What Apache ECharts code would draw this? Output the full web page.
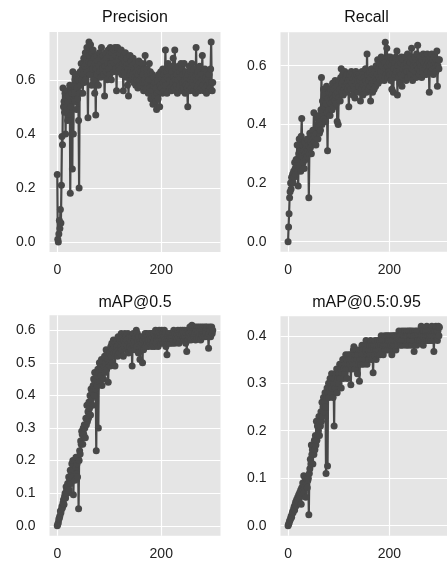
<!DOCTYPE html>
<html><head><meta charset="utf-8">
<script src="https://cdn.jsdelivr.net/npm/echarts@6/dist/echarts.min.js"></script>
<style>html,body{margin:0;padding:0;background:#fff}#c{width:447px;height:563px}</style>
</head><body><div id="c"></div>
<script>
const titles = ['Precision', 'Recall', 'mAP@0.5', 'mAP@0.5:0.95'];
const xTicks = [0, 200];
const precisionTicks = [0.0, 0.2, 0.4, 0.6];
const recallTicks = [0.0, 0.2, 0.4, 0.6];
const map50Ticks = [0.0, 0.1, 0.2, 0.3, 0.4, 0.5, 0.6];
const map5095Ticks = [0.0, 0.1, 0.2, 0.3, 0.4];

const precision = [
0.25,0.01,0.00,0.03,0.08,0.05,0.12,0.07,0.21,0.39,
0.36,0.57,0.50,0.52,0.48,0.55,0.40,0.53,0.50,0.56,
0.45,0.52,0.54,0.49,0.58,0.18,0.50,0.56,0.55,0.27,
0.63,0.40,0.58,0.55,0.60,0.52,0.62,0.49,0.57,0.53,
0.60,0.45,0.20,0.55,0.63,0.58,0.66,0.60,0.64,0.55,
0.62,0.68,0.59,0.65,0.70,0.60,0.66,0.72,0.63,0.46,
0.67,0.74,0.69,0.62,0.73,0.66,0.58,0.70,0.64,0.71,
0.60,0.68,0.55,0.66,0.47,0.64,0.69,0.62,0.67,0.58,
0.65,0.70,0.63,0.68,0.61,0.72,0.66,0.64,0.69,0.62,
0.67,0.54,0.65,0.70,0.63,0.68,0.60,0.66,0.71,0.64,
0.69,0.62,0.72,0.66,0.60,0.70,0.65,0.68,0.63,0.71,
0.66,0.72,0.64,0.69,0.56,0.67,0.72,0.63,0.68,0.65,
0.70,0.64,0.67,0.71,0.62,0.68,0.66,0.56,0.69,0.63,
0.67,0.70,0.61,0.65,0.68,0.58,0.64,0.54,0.66,0.62,
0.69,0.63,0.67,0.60,0.65,0.62,0.68,0.59,0.64,0.61,
0.66,0.58,0.63,0.60,0.65,0.57,0.62,0.67,0.60,0.64,
0.58,0.63,0.61,0.66,0.59,0.62,0.56,0.64,0.60,0.69,
0.61,0.57,0.64,0.59,0.62,0.55,0.60,0.66,0.57,0.63,
0.53,0.60,0.56,0.62,0.51,0.58,0.61,0.54,0.59,0.52,
0.57,0.49,0.55,0.60,0.53,0.62,0.56,0.50,0.58,0.63,
0.57,0.61,0.55,0.64,0.59,0.62,0.56,0.60,0.71,0.58,
0.63,0.55,0.61,0.66,0.58,0.64,0.60,0.57,0.65,0.62,
0.56,0.63,0.59,0.68,0.61,0.57,0.71,0.60,0.64,0.58,
0.62,0.55,0.60,0.65,0.57,0.63,0.58,0.61,0.66,0.56,
0.64,0.59,0.62,0.57,0.66,0.60,0.55,0.63,0.58,0.61,
0.57,0.50,0.62,0.58,0.65,0.56,0.60,0.63,0.57,0.66,
0.59,0.62,0.56,0.64,0.58,0.61,0.55,0.72,0.60,0.57,
0.63,0.58,0.61,0.56,0.65,0.59,0.62,0.57,0.60,0.69,
0.58,0.62,0.56,0.60,0.64,0.57,0.61,0.55,0.63,0.58,
0.60,0.56,0.62,0.59,0.57,0.64,0.74,0.59,0.56,0.59
];

const recall = [
0.00,0.05,0.095,0.15,0.17,0.20,0.18,0.22,0.21,0.23,
0.20,0.24,0.22,0.27,0.25,0.23,0.28,0.26,0.33,0.28,
0.19,0.30,0.35,0.26,0.31,0.24,0.36,0.42,0.29,0.33,
0.27,0.31,0.25,0.34,0.30,0.28,0.32,0.29,0.35,0.31,
0.33,0.15,0.30,0.37,0.32,0.34,0.30,0.36,0.33,0.38,
0.35,0.44,0.34,0.38,0.36,0.33,0.40,0.37,0.42,0.35,
0.39,0.43,0.37,0.41,0.38,0.45,0.56,0.40,0.48,0.43,
0.52,0.42,0.46,0.50,0.41,0.47,0.53,0.44,0.31,0.49,
0.45,0.51,0.48,0.43,0.52,0.47,0.50,0.45,0.54,0.49,
0.46,0.52,0.48,0.55,0.50,0.47,0.53,0.41,0.51,0.40,
0.49,0.55,0.52,0.48,0.56,0.59,0.51,0.54,0.57,0.50,
0.55,0.52,0.58,0.53,0.56,0.51,0.57,0.54,0.52,0.55,
0.46,0.53,0.57,0.55,0.52,0.58,0.54,0.56,0.50,0.57,
0.53,0.56,0.49,0.55,0.58,0.52,0.57,0.54,0.51,0.56,
0.53,0.57,0.55,0.48,0.56,0.52,0.58,0.54,0.50,0.57,
0.53,0.56,0.52,0.59,0.55,0.51,0.64,0.54,0.57,0.52,
0.55,0.58,0.53,0.48,0.56,0.59,0.54,0.51,0.57,0.55,
0.52,0.58,0.56,0.53,0.60,0.55,0.57,0.62,0.54,0.59,
0.56,0.61,0.55,0.58,0.63,0.57,0.60,0.56,0.62,0.58,
0.55,0.61,0.68,0.59,0.57,0.66,0.60,0.56,0.63,0.58,
0.61,0.57,0.63,0.55,0.60,0.52,0.58,0.62,0.51,0.59,
0.56,0.61,0.57,0.63,0.58,0.65,0.50,0.60,0.56,0.62,
0.58,0.54,0.61,0.57,0.63,0.53,0.59,0.62,0.56,0.60,
0.57,0.63,0.59,0.55,0.61,0.58,0.64,0.56,0.60,0.62,
0.58,0.61,0.57,0.63,0.66,0.59,0.55,0.62,0.60,0.57,
0.63,0.58,0.61,0.56,0.64,0.60,0.67,0.59,0.62,0.57,
0.61,0.58,0.63,0.60,0.56,0.62,0.59,0.64,0.57,0.61,
0.63,0.59,0.62,0.57,0.60,0.64,0.58,0.61,0.62,0.51,
0.60,0.63,0.58,0.61,0.64,0.59,0.62,0.57,0.60,0.63,
0.59,0.61,0.58,0.62,0.65,0.53,0.60,0.62,0.59,0.62
];

const map50 = [
0.00,0.005,0.01,0.02,0.025,0.03,0.045,0.04,0.05,0.06,
0.055,0.07,0.08,0.065,0.09,0.10,0.085,0.12,0.11,0.10,
0.13,0.12,0.15,0.11,0.14,0.17,0.13,0.16,0.19,0.15,
0.20,0.095,0.17,0.20,0.14,0.18,0.21,0.16,0.19,0.15,
0.21,0.052,0.20,0.23,0.22,0.26,0.25,0.29,0.28,0.25,
0.30,0.28,0.31,0.30,0.27,0.33,0.31,0.37,0.32,0.35,
0.33,0.38,0.36,0.40,0.34,0.42,0.39,0.41,0.37,0.43,
0.45,0.40,0.47,0.44,0.42,0.23,0.46,0.43,0.48,0.30,
0.47,0.50,0.44,0.49,0.46,0.51,0.43,0.48,0.50,0.45,
0.49,0.52,0.47,0.50,0.54,0.48,0.53,0.51,0.44,0.52,
0.50,0.53,0.49,0.55,0.52,0.56,0.50,0.54,0.57,0.53,
0.55,0.49,0.56,0.53,0.57,0.55,0.52,0.58,0.54,0.56,
0.53,0.57,0.55,0.59,0.54,0.56,0.58,0.52,0.57,0.55,
0.59,0.56,0.58,0.54,0.57,0.55,0.59,0.53,0.56,0.58,
0.55,0.57,0.54,0.58,0.49,0.56,0.59,0.55,0.57,0.54,
0.58,0.56,0.60,0.55,0.59,0.57,0.53,0.58,0.56,0.51,
0.57,0.55,0.58,0.56,0.50,0.57,0.54,0.58,0.56,0.59,
0.55,0.57,0.59,0.56,0.58,0.55,0.57,0.59,0.56,0.58,
0.57,0.59,0.55,0.58,0.56,0.59,0.57,0.55,0.58,0.60,
0.56,0.58,0.57,0.59,0.55,0.58,0.60,0.57,0.59,0.56,
0.58,0.60,0.57,0.59,0.56,0.58,0.60,0.57,0.59,0.55,
0.57,0.525,0.58,0.56,0.59,0.57,0.58,0.56,0.59,0.57,
0.58,0.56,0.59,0.57,0.60,0.58,0.56,0.59,0.57,0.58,
0.59,0.57,0.60,0.58,0.56,0.59,0.57,0.60,0.58,0.59,
0.57,0.60,0.58,0.59,0.57,0.60,0.58,0.56,0.59,0.535,
0.58,0.60,0.57,0.59,0.58,0.61,0.59,0.57,0.60,0.615,
0.59,0.61,0.58,0.60,0.59,0.61,0.57,0.60,0.58,0.61,
0.59,0.60,0.58,0.61,0.59,0.60,0.57,0.61,0.59,0.60,
0.58,0.61,0.59,0.60,0.58,0.61,0.60,0.59,0.61,0.58,
0.60,0.545,0.59,0.61,0.60,0.58,0.60,0.61,0.59,0.60
];

const map5095 = [
0.00,0.003,0.006,0.01,0.012,0.015,0.02,0.018,0.025,0.03,
0.028,0.035,0.04,0.033,0.045,0.05,0.042,0.055,0.048,0.06,
0.052,0.065,0.058,0.07,0.062,0.075,0.045,0.08,0.068,0.09,
0.075,0.105,0.07,0.085,0.095,0.06,0.09,0.10,0.08,0.095,
0.10,0.023,0.11,0.12,0.14,0.13,0.17,0.15,0.16,0.13,
0.17,0.15,0.18,0.16,0.19,0.17,0.22,0.18,0.21,0.19,
0.20,0.23,0.19,0.22,0.21,0.24,0.22,0.26,0.23,0.25,
0.27,0.24,0.26,0.28,0.25,0.11,0.27,0.29,0.126,0.28,
0.30,0.27,0.29,0.31,0.28,0.30,0.32,0.29,0.31,0.27,
0.30,0.21,0.31,0.29,0.32,0.30,0.33,0.28,0.31,0.33,
0.30,0.32,0.34,0.31,0.33,0.29,0.34,0.32,0.35,0.31,
0.33,0.35,0.32,0.34,0.36,0.33,0.35,0.31,0.34,0.36,
0.33,0.35,0.34,0.36,0.297,0.35,0.33,0.36,0.34,0.37,
0.377,0.35,0.33,0.36,0.34,0.37,0.35,0.32,0.36,0.34,
0.37,0.304,0.35,0.37,0.34,0.36,0.38,0.35,0.37,0.34,
0.36,0.38,0.35,0.37,0.39,0.36,0.34,0.38,0.36,0.37,
0.35,0.38,0.36,0.39,0.37,0.35,0.38,0.36,0.322,0.37,
0.38,0.36,0.39,0.37,0.35,0.38,0.37,0.39,0.36,0.38,
0.37,0.39,0.36,0.38,0.40,0.37,0.39,0.38,0.36,0.39,
0.38,0.40,0.37,0.39,0.38,0.40,0.37,0.39,0.40,0.38,
0.39,0.37,0.40,0.38,0.39,0.36,0.40,0.38,0.39,0.40,
0.38,0.40,0.39,0.37,0.40,0.39,0.38,0.40,0.39,0.41,
0.39,0.40,0.38,0.40,0.39,0.41,0.38,0.40,0.39,0.40,
0.41,0.39,0.40,0.38,0.40,0.41,0.39,0.40,0.38,0.41,
0.40,0.39,0.41,0.40,0.38,0.40,0.41,0.39,0.40,0.367,
0.40,0.41,0.39,0.40,0.38,0.41,0.40,0.39,0.41,0.40,
0.39,0.41,0.40,0.42,0.39,0.40,0.41,0.38,0.40,0.41,
0.40,0.39,0.41,0.40,0.42,0.39,0.41,0.40,0.39,0.41,
0.40,0.41,0.39,0.40,0.42,0.41,0.39,0.40,0.367,0.41,
0.40,0.41,0.42,0.40,0.41,0.39,0.41,0.42,0.40,0.418
];

const seriesList = [precision, recall, map50, map5095];
const tickList = [precisionTicks, recallTicks, map50Ticks, map5095Ticks];

const panels = [
  {left: 49.5, top: 32, width: 171, height: 220},
  {left: 280.5, top: 32.3, width: 172, height: 219.4},
  {left: 49.5, top: 315.3, width: 171, height: 220.5},
  {left: 280.5, top: 316.3, width: 172, height: 219.4}
];

function padExtent(arr) {
  const mn = Math.min(...arr), mx = Math.max(...arr);
  const r = mx - mn;
  return [mn - 0.05 * r, mx + 0.05 * r];
}

const FONT = 'Liberation Sans, Arial, Helvetica, sans-serif';
const grids = [], xAxes = [], yAxes = [], series = [], graphics = [];
seriesList.forEach((data, i) => {
  const p = panels[i];
  grids.push({left: p.left, top: p.top, width: p.width, height: p.height,
    backgroundColor: '#E5E5E5', show: true, borderWidth: 0, containLabel: false});
  const xe = padExtent(data.map((v, k) => k));
  const ye = padExtent(data);
  xAxes.push({type: 'value', gridIndex: i, min: xe[0], max: xe[1],
    axisLine: {show: false},
    axisTick: {show: false, customValues: xTicks},
    axisLabel: {customValues: xTicks, color: '#222', fontSize: 14, fontFamily: FONT, margin: 11,
      formatter: v => String(Math.round(v))},
    splitLine: {show: true, lineStyle: {color: '#FFFFFF', width: 1.2}}
  });
  yAxes.push({type: 'value', gridIndex: i, min: ye[0], max: ye[1],
    axisLine: {show: false},
    axisTick: {show: false, customValues: tickList[i]},
    axisLabel: {customValues: tickList[i], color: '#222', fontSize: 14, fontFamily: FONT, margin: 14,
      formatter: v => v.toFixed(1)},
    splitLine: {show: true, lineStyle: {color: '#FFFFFF', width: 1.2}}
  });
  series.push({type: 'line', xAxisIndex: i, yAxisIndex: i,
    data: data.map((v, k) => [k, v]),
    symbol: 'circle', symbolSize: 7, showSymbol: true, showAllSymbol: true,
    lineStyle: {color: '#484848', width: 2.2},
    itemStyle: {color: '#484848', borderWidth: 0},
    clip: true, animation: false, silent: true
  });
  graphics.push({type: 'text', x: p.left + p.width / 2, y: i < 2 ? 18 : 302.5,
    style: {text: titles[i], textAlign: 'center', textVerticalAlign: 'middle',
      font: '16px ' + FONT, fill: '#111'}});
});

const chart = echarts.init(document.getElementById('c'), null, {renderer: 'canvas'});
chart.setOption({
  animation: false,
  grid: grids, xAxis: xAxes, yAxis: yAxes, series: series, graphic: graphics
});
</script>
</body></html>
